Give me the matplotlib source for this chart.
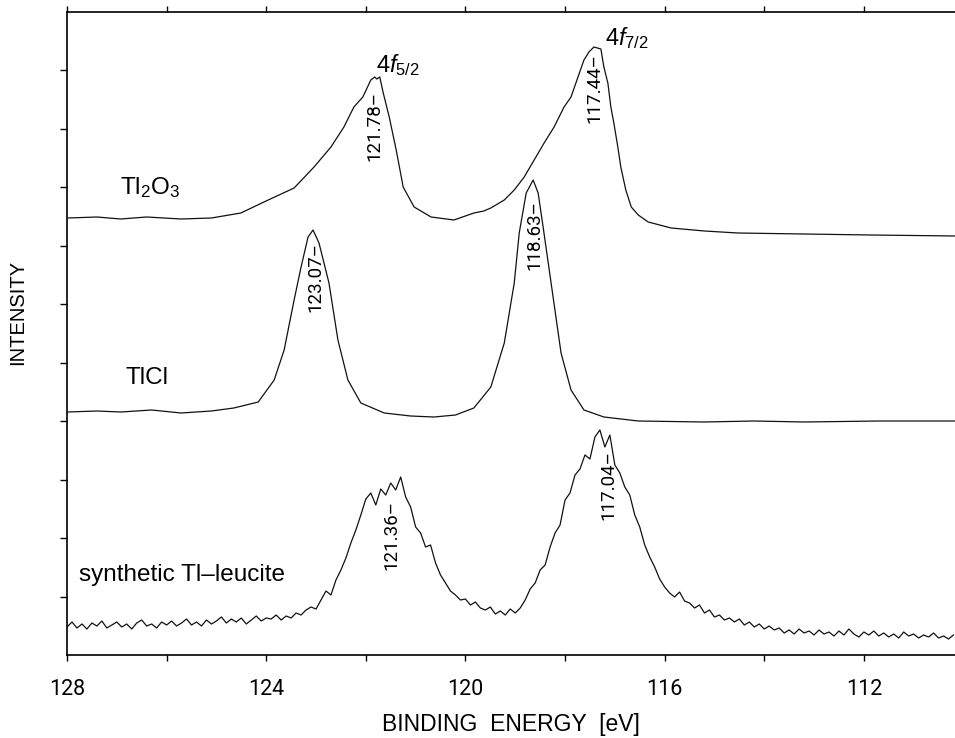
import numpy as np
import matplotlib
matplotlib.use('Agg')
import matplotlib.pyplot as plt

plt.rcParams['font.family'] = ['Liberation Sans', 'DejaVu Sans']
plt.rcParams['mathtext.fontset'] = 'custom'
plt.rcParams['mathtext.rm'] = 'Liberation Sans'
plt.rcParams['mathtext.it'] = 'Liberation Sans:italic'

NARROW = ['Liberation Sans Narrow', 'DejaVu Sans Condensed', 'Roboto', 'DejaVu Sans']

# ── Datos (energía de enlace en eV, intensidad en u.a.) ──
tl2o3_E = [127.98, 127.4, 126.92, 126.4, 125.71, 125.1, 124.51, 123.96, 123.44,
           123.04, 122.70, 122.44, 122.24, 122.06, 121.90, 121.82, 121.78, 121.72,
           121.65, 121.53, 121.39, 121.25, 121.03, 120.69, 120.23, 119.83, 119.63,
           119.49, 119.22, 119.02, 118.82, 118.62, 118.42, 118.22, 118.02, 117.88,
           117.74, 117.62, 117.52, 117.42, 117.28, 117.22, 117.14, 117.08, 117.02,
           116.94, 116.88, 116.78, 116.67, 116.53, 116.33, 115.87, 115.2, 114.53,
           113.20, 111.86, 110.15]
tl2o3_I = [437, 438, 436, 438, 436, 437, 442, 455, 467,
           488, 508, 528, 548, 558, 575, 578, 576, 578,
           562, 538, 505, 468, 448, 438, 435, 442, 444,
           447, 455, 465, 478, 495, 512, 528, 548, 558,
           578, 595, 603, 608, 606, 588, 572, 548, 532,
           508, 488, 465, 448, 440, 433, 427, 424, 422,
           421, 420, 419]

tlcl_E = [127.98, 127.4, 126.92, 126.3, 125.71, 125.1, 124.65, 124.16, 123.84,
          123.64, 123.44, 123.30, 123.16, 123.06, 122.94, 122.74, 122.56, 122.36,
          122.10, 121.63, 121.1, 120.63, 120.2, 119.83, 119.49, 119.22, 119.02,
          118.92, 118.78, 118.64, 118.54, 118.44, 118.28, 118.08, 117.88, 117.62,
          117.22, 116.53, 115.21, 114.2, 113.20, 111.7, 110.15]
tlcl_I = [243, 244, 243, 245, 242, 244, 247, 253, 275,
          305, 355, 388, 418, 425, 412, 372, 315, 275,
          252, 242, 239, 238, 240, 247, 268, 312, 372,
          422, 462, 475, 462, 428, 372, 302, 265, 245,
          238, 234, 233, 234, 233, 234, 234]

# leucita sintética: espectro ruidoso, muestreado cada 0.1 eV de 128.0 a 110.2 eV
leucite_I = [28, 33, 27, 31, 26, 32, 29, 34, 27, 30, 33, 28, 31, 26, 32, 35, 29, 31,
             27, 33, 30, 34, 29, 32, 36, 30, 33, 29, 35, 31, 34, 38, 32, 36, 33, 37,
             31, 35, 39, 34, 37,
             36, 40, 35, 39, 37, 42, 40, 45, 48, 46,
             55, 64, 60, 75, 85, 97, 112, 125, 140, 156,
             162, 150, 166, 160, 172, 165, 178, 158, 148, 128,
             122, 108, 110, 92, 80, 72, 64, 60, 55, 56,
             50, 53, 47, 45, 48, 41, 44, 40, 46, 42,
             47, 55, 66, 72, 85, 90, 108, 122, 130, 155,
             162, 180, 186, 200, 196, 218, 225, 208, 220, 190,
             182, 168, 160, 140, 128, 110, 98, 88, 76, 68,
             62, 58, 63, 54, 52, 47, 50, 42, 45, 38,
             40, 35, 37, 33, 36, 30, 33, 28, 31, 26,
             29, 25, 27, 22, 25, 21, 26, 22, 24, 20,
             25, 21, 23, 19, 24, 20, 26, 21, 18, 23,
             20, 24, 19, 22, 18, 21, 17, 23, 19, 21,
             17, 20, 18, 22, 17, 19, 16, 20]
leucite_E = np.linspace(128.0, 110.2, len(leucite_I))

# etiquetas de picos: (texto, energía, intensidad)
peak_labels = [('121.78–', 121.82, 529), ('117.44–', 117.40, 567),
               ('123.07–', 123.02, 378), ('118.63–', 118.62, 420),
               ('121.36–', 121.49, 120), ('117.04–', 117.12, 170)]

# ── Gráfico ───────────────────────────────────────────────────────────────────
fig = plt.figure(figsize=(9.55, 7.38), dpi=100)
ax = fig.add_axes([67 / 955, 83 / 738, 888 / 955, 643 / 738])

for E, I in [(tl2o3_E, tl2o3_I), (tlcl_E, tlcl_I), (leucite_E, leucite_I)]:
    ax.plot(E, I, color='#111111', linewidth=0.9)

ax.set_xlim(128, 110.17)
ax.set_ylim(0, 643)
ax.set_xticks([128, 124, 120, 116, 112])
ax.set_xticks([126, 122, 118, 114], minor=True)
ax.set_yticks([58.5 * k for k in range(1, 11)])
ax.set_yticklabels([])
ax.tick_params(axis='x', which='both', direction='out', length=4, width=1,
               top=True, pad=13, labelsize=15.5)
ax.tick_params(axis='y', direction='out', length=5, width=1)
for lbl in ax.get_xticklabels():
    lbl.set_family(NARROW)
ax.spines['right'].set_visible(False)
for s in ['left', 'top', 'bottom']:
    ax.spines[s].set_linewidth(1.2)

ax.set_xlabel('BINDING  ENERGY  [eV]', fontsize=16.5, labelpad=10)
ax.set_ylabel('INTENSITY', fontsize=14.5)
ax.yaxis.set_label_coords(-0.045, 0.532)

ax.text(126.33, 467, r'$\mathregular{Tl_2O_3}$', fontsize=17.5, ha='center', va='center')
ax.text(126.39, 277, 'TlCl', fontsize=17.5, ha='center', va='center')
ax.text(127.76, 80, 'synthetic Tl–leucite', fontsize=17.5, ha='left', va='center')
ax.text(121.80, 590, r'$\mathit{4f_{5/2}}$', fontsize=17, ha='left', va='center')
ax.text(117.20, 617, r'$\mathit{4f_{7/2}}$', fontsize=17, ha='left', va='center')

for txt, E, I in peak_labels:
    ax.text(E, I, txt, rotation=90, fontsize=13.5, ha='center', va='center',
            family=NARROW)

fig.savefig('out.png', dpi=100)
